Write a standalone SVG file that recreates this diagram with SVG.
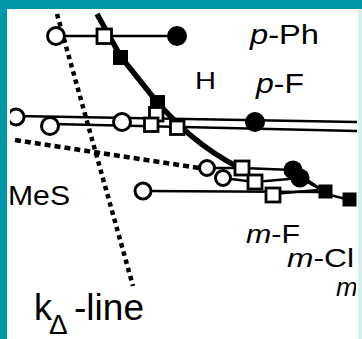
<svg xmlns="http://www.w3.org/2000/svg" width="362" height="339" viewBox="0 0 362 339">
<style>
.t{font-family:"Liberation Sans",Arial,sans-serif;fill:#000}
.i{font-style:italic}
.thin{fill:none;stroke:#000;stroke-width:2.5}
.thick{fill:none;stroke:#000;stroke-width:5.5}
.dot1{fill:none;stroke:#000;stroke-width:4.5;stroke-dasharray:4.5 4}
.dot2{fill:none;stroke:#000;stroke-width:4.5;stroke-dasharray:6 4}
.oc{fill:#fff;stroke:#000;stroke-width:3}
.os{fill:#fff;stroke:#000;stroke-width:2.8}
.fc{fill:#000}
.fs{fill:#000}
</style>
<defs>
<clipPath id="clipR"><rect x="0" y="0" width="356" height="339"/></clipPath>
<clipPath id="clipL"><rect x="10" y="0" width="352" height="339"/></clipPath>
</defs>
<rect x="0" y="0" width="362" height="339" fill="#fff"/>
<g id="connectors">
<path class="dot1" d="M57,14 L133,286"/>
<path class="dot2" d="M15,140 L199,168"/>
<path class="thin" d="M56,36 L178,36"/>
<path class="thin" d="M15,116 L357,122"/>
<path class="thin" d="M52,124 L357,131"/>
<path class="thin" d="M143,191 L318,192 L350,200"/>
<path class="thin" d="M207,168 L242,168 L293,170 L325,192"/>
<path class="thin" d="M223,178 L255,182 L300,178 L325,192"/>
<path class="thin" d="M273,194 L318,190"/>
<path class="thick" d="M97,14 L121,57 L157,102 C175,122 200,148 240,168"/>
</g>
<g id="node-top-row">
<circle class="oc" cx="56" cy="36" r="8.5"/>
<rect class="os" x="97" y="29" width="14.5" height="14.5"/>
<circle class="fc" cx="177" cy="36" r="10"/>
</g>
<g id="node-thick-squares">
<rect class="fs" x="113" y="50" width="15" height="15"/>
<rect class="fs" x="150" y="95" width="15" height="15"/>
</g>
<g id="node-double-row">
<g clip-path="url(#clipL)"><circle class="oc" cx="16" cy="117" r="8"/></g>
<circle class="oc" cx="50" cy="126" r="8.5"/>
<circle class="oc" cx="122" cy="122" r="8.5"/>
<rect class="os" x="149.5" y="107.5" width="13.5" height="13.5"/>
<rect class="os" x="144.5" y="118" width="13.5" height="13.5"/>
<rect class="os" x="170.5" y="121" width="13.5" height="13.5"/>
<circle class="fc" cx="255" cy="122" r="10"/>
</g>
<g id="node-lower-row">
<circle class="oc" cx="143" cy="191" r="8"/>
<circle class="oc" cx="207" cy="168" r="7.5"/>
<circle class="oc" cx="223" cy="178" r="7.5"/>
<rect class="os" x="235" y="161" width="14" height="14"/>
<rect class="os" x="248" y="175" width="14" height="14"/>
<rect class="os" x="266" y="188" width="14" height="14"/>
<circle class="fc" cx="293" cy="170" r="9.5"/>
<circle class="fc" cx="300" cy="178" r="9.5"/>
<rect class="fs" x="318.5" y="184.5" width="14" height="14"/>
<rect class="fs" x="342.5" y="192.5" width="14" height="14"/>
</g>
<g id="labels">
<text class="t" x="250" y="44" font-size="27" textLength="69" lengthAdjust="spacingAndGlyphs"><tspan class="i">p</tspan>-Ph</text>
<text class="t" x="195" y="89" font-size="24" textLength="21" lengthAdjust="spacingAndGlyphs">H</text>
<text class="t" x="256" y="93" font-size="27" textLength="48" lengthAdjust="spacingAndGlyphs"><tspan class="i">p</tspan>-F</text>
<text class="t" x="8" y="205" font-size="28" textLength="62" lengthAdjust="spacingAndGlyphs">MeS</text>
<text class="t" x="246" y="243" font-size="26" textLength="54" lengthAdjust="spacingAndGlyphs"><tspan class="i">m</tspan>-F</text>
<text class="t" x="287" y="267" font-size="25" textLength="67" lengthAdjust="spacingAndGlyphs"><tspan class="i">m</tspan>-Cl</text>
<g clip-path="url(#clipR)"><text class="t i" x="336" y="296" font-size="26">m</text></g>
<text class="t" x="34" y="320" font-size="36">k</text>
<text class="t" x="49" y="334" font-size="28">Δ</text>
<text class="t" x="74" y="320" font-size="36" textLength="70" lengthAdjust="spacingAndGlyphs">-line</text>
</g>
<g id="frame">
<rect x="0" y="0" width="362" height="9" fill="#0097a9"/>
<rect x="0" y="0" width="7" height="339" fill="#0097a9"/>
<rect x="358" y="9" width="4" height="330" fill="#d6eef0"/>
</g>
</svg>
